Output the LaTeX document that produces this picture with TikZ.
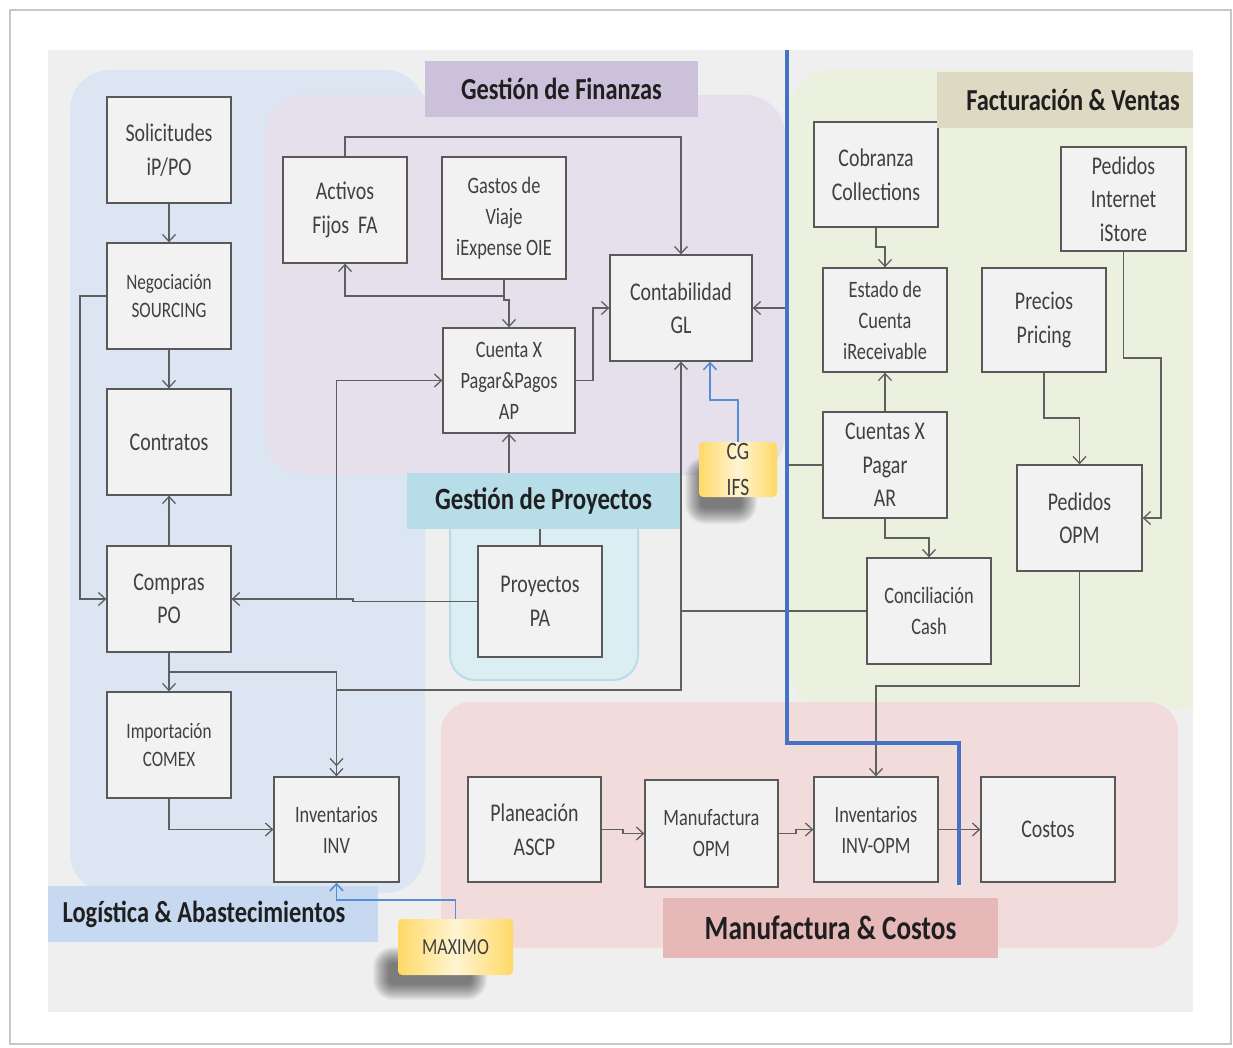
\documentclass[tikz,border=0pt]{standalone}
\usepackage{fontspec}
\setmainfont{Carlito}
\newfontfamily\boxfont{Carlito}[FakeStretch=0.78]
\newfontfamily\lblfont{Carlito}[FakeStretch=0.8]
\usetikzlibrary{arrows.meta}

\definecolor{pagebg}{HTML}{EFEFEF}
\definecolor{logbg}{HTML}{DCE6F2}
\definecolor{finbg}{HTML}{E5E0EC}
\definecolor{facbg}{HTML}{EBF1DE}
\definecolor{manbg}{HTML}{F2DCDB}
\definecolor{prybg}{HTML}{DBEEF3}
\definecolor{logtag}{HTML}{C6D9F1}
\definecolor{fintag}{HTML}{CCC1DA}
\definecolor{factag}{HTML}{DDD9C3}
\definecolor{mantag}{HTML}{E6B9B8}
\definecolor{prytag}{HTML}{B7DEE8}
\definecolor{boxfill}{HTML}{F2F2F2}
\definecolor{boxline}{HTML}{595959}
\definecolor{boxtext}{HTML}{404040}
\definecolor{wire}{HTML}{5F5F5F}
\definecolor{bluewire}{HTML}{558ED5}
\definecolor{divider}{HTML}{4472C4}
\definecolor{sticky}{HTML}{FFD966}
\definecolor{stickylight}{HTML}{FFF4D2}

\tikzset{
  box/.style={draw=boxline, fill=boxfill, line width=1.3pt, align=center,
    inner sep=0pt, text=boxtext, font=\boxfont\fontsize{25.5}{33.5}\selectfont},
  smalltext/.style={font=\boxfont\fontsize{23.5}{31}\selectfont},
  tinytext/.style={font=\boxfont\fontsize{22}{28.5}\selectfont},
  tag/.style={inner sep=0pt, text=black!88, font=\lblfont\bfseries\fontsize{30.5}{34}\selectfont},
  arr/.style={-{Straight Barb[length=7pt,width=13pt]}},
  wireline/.style={draw=wire, line width=1.3pt, arr},
  blueline/.style={draw=bluewire, line width=1.6pt, arr},
  stickynote/.style={rounded corners=4pt, left color=sticky, right color=sticky,
    middle color=stickylight, align=center, text=boxtext, inner sep=0pt,
    font=\boxfont\fontsize{25}{36}\selectfont},
  softshadow/.style={fill=black, opacity=0.034},
}

\begin{document}
\begin{tikzpicture}[x=1pt,y=-1pt]
\useasboundingbox (0,0) rectangle (1233,1048);
% page and frame
\fill[white] (0,0) rectangle (1233,1048);
\draw[black!22, line width=1.5pt] (10,10) rectangle (1231,1044);
\fill[pagebg] (48,50) rectangle (1193,1012);

% functional areas
\begin{scope}
  \clip (48,50) rectangle (1193,1012);
  \fill[logbg, rounded corners=40pt] (70,70) rectangle (425,893);
  \fill[finbg, rounded corners=40pt] (265,95) rectangle (785,475);
  \fill[facbg, rounded corners=40pt] (790,70) rectangle (1215,710);
  \fill[manbg, rounded corners=30pt] (441,702) rectangle (1178,948);
\end{scope}
\draw[prytag, fill=prybg, line width=2pt, rounded corners=25pt] (450,500) rectangle (638,680);

% Logistica
\node[box, minimum width=124pt, minimum height=106pt] (sol) at (169,150) {Solicitudes\\iP/PO};
\node[box, tinytext, minimum width=124pt, minimum height=106pt] (neg) at (169,296) {Negociación\\SOURCING};
\node[box, minimum width=124pt, minimum height=106pt] (con) at (169,442) {Contratos};
\node[box, minimum width=124pt, minimum height=106pt] (com) at (169,599) {Compras\\PO};
\node[box, tinytext, minimum width=124pt, minimum height=106pt] (imp) at (169,745) {Importación\\COMEX};
\node[box, smalltext, minimum width=125pt, minimum height=105pt] (inv) at (336.5,829.5) {Inventarios\\INV};

% Finanzas
\node[box, minimum width=124pt, minimum height=106pt] (act) at (345,210) {Activos\\Fijos\ \ FA};
\node[box, smalltext, minimum width=124pt, minimum height=122pt] (gas) at (504,218) {Gastos de\\Viaje\\iExpense OIE};
\node[box, minimum width=142pt, minimum height=106pt] (cont) at (681,308) {Contabilidad\\GL};
\node[box, smalltext, minimum width=132pt, minimum height=105pt] (ap) at (509,380.5) {Cuenta X\\Pagar\&Pagos\\AP};

% Proyectos
\node[box, minimum width=124pt, minimum height=111pt] (proy) at (540,601.5) {Proyectos\\PA};

% Facturacion y ventas
\node[box, minimum width=124pt, minimum height=105pt] (cob) at (876,174.5) {Cobranza\\Collections};
\node[box, smalltext, minimum width=124pt, minimum height=104pt] (est) at (885,320) {Estado de\\Cuenta\\iReceivable};
\node[box, minimum width=125pt, minimum height=104pt] (ped) at (1123.5,199) {Pedidos\\Internet\\iStore};
\node[box, minimum width=124pt, minimum height=104pt] (pre) at (1044,320) {Precios\\Pricing};
\node[box, minimum width=124pt, minimum height=106pt] (ar) at (885,465) {Cuentas X\\Pagar\\AR};
\node[box, minimum width=125pt, minimum height=106pt] (opm) at (1079.5,518) {Pedidos\\OPM};
\node[box, smalltext, minimum width=124pt, minimum height=106pt] (conc) at (929,611) {Conciliación\\Cash};

% Manufactura
\node[box, minimum width=133pt, minimum height=105pt] (pla) at (534.5,829.5) {Planeación\\ASCP};
\node[box, smalltext, minimum width=133pt, minimum height=107pt] (man) at (711.5,833.5) {Manufactura\\OPM};
\node[box, smalltext, minimum width=124pt, minimum height=105pt] (invopm) at (876,829.5) {Inventarios\\INV-OPM};
\node[box, minimum width=134pt, minimum height=105pt] (cos) at (1048,829.5) {Costos};

% connectors: logistica
\draw[wireline] (sol.south) -- (neg.north);
\draw[wireline] (neg.south) -- (con.north);
\draw[wireline] (neg.west) -- (80,296) |- (com.west);
\draw[wireline] (com.north) -- (con.south);
\draw[wireline] (com.south) -- (imp.north);
\draw[wireline] (com.south) -- (169,672) -| (inv.north);
\draw[wireline] (imp.south) |- (inv.west);
\draw[wireline] (proy.west) -- (353,601.5) -- (353,599) -- (com.east);
\draw[wireline] (com.east) -- (336.5,599) |- (ap.west);
\draw[wireline] (proy.north) -- (540,505) -- (509,505) -- (ap.south);

% connectors: finanzas
\draw[wireline] (gas.south) -- (504,300) -- (509,300) -- (ap.north);
\draw[wireline] (504,296) -| (act.south);
\draw[wireline] (act.north) -- (345,137) -| (cont.north);
\draw[wireline] (ap.east) -- (593,380.5) |- (cont.west);
\draw[wireline] (ar.west) -- (787,465) |- (cont.east);
\draw[wireline] (conc.west) -| (cont.south);
\draw[wireline, shorten >=10pt] (681,611) -- (681,690) -| (inv.north);

% connectors: facturacion y ventas
\draw[wireline] (cob.south) -- (876,247) -- (885,247) -- (est.north);
\draw[wireline] (ar.north) -- (est.south);
\draw[wireline] (ar.south) -- (885,538) -| (conc.north);
\draw[wireline] (ped.south) -- (1123.5,358) -- (1161,358) |- (opm.east);
\draw[wireline] (pre.south) -- (1044,418) -| (opm.north);
\draw[wireline] (opm.south) -- (1079.5,686) -| (invopm.north);

% connectors: manufactura
\draw[wireline] (pla.east) -- (623,829.5) -- (623,833.5) -- (man.west);
\draw[wireline] (man.east) -- (796,833.5) -- (796,829.5) -- (invopm.west);
\draw[wireline] (invopm.east) -- (cos.west);

% area titles
\node[tag, fill=fintag, minimum width=273pt, minimum height=56pt] (tfin) at (561.5,89) {Gestión de Finanzas};
\node[tag, fill=factag, minimum width=256pt, minimum height=56pt] (tfac) at (1065,100) {\hspace*{16pt}Facturación \& Ventas};
\node[tag, fill=logtag, minimum width=330pt, minimum height=56pt] (tlog) at (213,914) {Logística \& Abastecimientos\hspace*{18pt}};
\node[tag, fill=mantag, minimum width=335pt, minimum height=60pt, font=\lblfont\bfseries\fontsize{34}{38}\selectfont] (tman) at (830.5,928) {Manufactura \& Costos};
\node[tag, fill=prytag, minimum width=273pt, minimum height=56pt, font=\lblfont\bfseries\fontsize{31}{34}\selectfont] (tpry) at (543.5,501) {Gestión de Proyectos};

% divider between finance and sales
\draw[divider, line width=4pt] (787,50) -- (787,743) -- (959,743) -- (959,885);

% soft shadows under the external system notes
\foreach \k in {0,...,16} {
  \fill[softshadow, rounded corners=\k pt+4pt] (701-\k,473-\k) rectangle (741+\k,508+\k);
  \fill[softshadow, rounded corners=\k pt+4pt] (389-\k,963-\k) rectangle (471+\k,984+\k);
}

% external systems
\node[stickynote, minimum width=78pt, minimum height=55pt,
  path picture={\node[align=center, text=boxtext, font=\boxfont\fontsize{25}{36}\selectfont]
    at (path picture bounding box.center) {CG\\IFS};}] (cg) at (738,469.5) {};
\node[stickynote, minimum width=115pt, minimum height=56pt,
  font=\boxfont\fontsize{23}{28}\selectfont] (max) at (455.5,947) {MAXIMO};
\draw[blueline] (cg.north) -- (738,400) -| ([xshift=29pt]cont.south);
\draw[blueline] (max.north) -- (455.5,900) -| (inv.south);
\end{tikzpicture}
\end{document}
